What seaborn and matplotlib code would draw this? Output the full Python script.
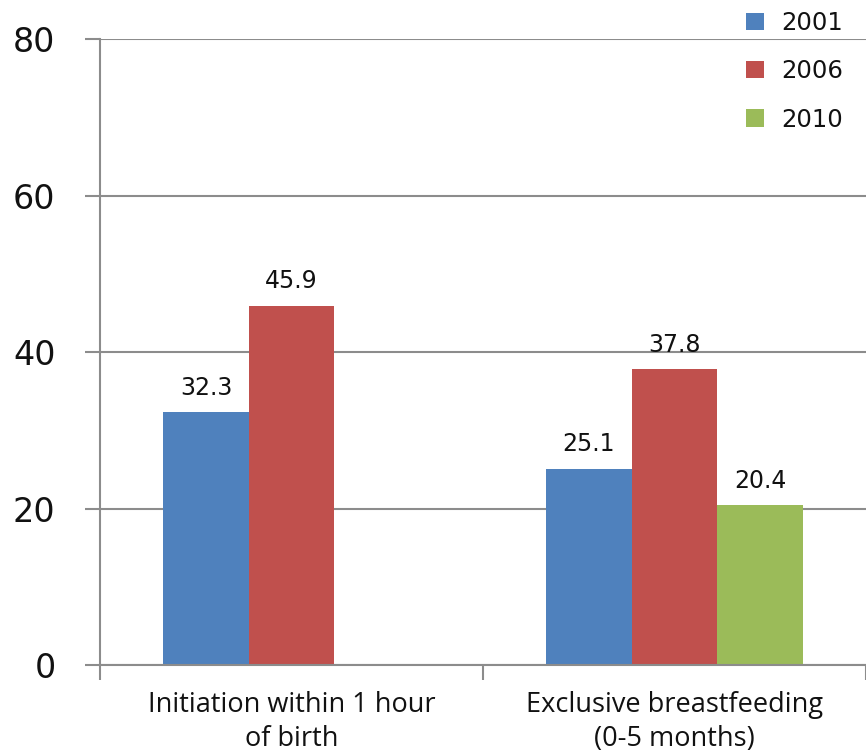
import numpy as np
import pandas as pd
import matplotlib
matplotlib.use("Agg")
import matplotlib.pyplot as plt
import seaborn as sns

# Breastfeeding indicators by survey year (percent)
categories = ["Initiation within 1 hour\nof birth", "Exclusive breastfeeding\n(0-5 months)"]
years = ["2001", "2006", "2010"]
values_2001 = [32.3, 25.1]
values_2006 = [45.9, 37.8]
values_2010 = [np.nan, 20.4]
y_ticks = [0, 20, 40, 60, 80]
palette = ["#4F81BD", "#C0504D", "#9BBB59"]

df = pd.DataFrame({
    "indicator": categories * 3,
    "year": [y for y in years for _ in categories],
    "value": values_2001 + values_2006 + values_2010,
})

sns.set_theme(style="white")
plt.rcParams["font.family"] = ["DejaVu Sans"]

fig = plt.figure(figsize=(8.66, 7.52), dpi=100)
ax = fig.add_axes([0.1155, 0.1157, 0.8845, 0.8323])

sns.barplot(data=df, x="indicator", y="value", hue="year", hue_order=years,
            order=categories, palette=palette, saturation=1, width=0.67,
            linewidth=0, errorbar=None, ax=ax)

grid_c = "#8C8C8C"
ax.set_ylim(0, 80)
ax.set_xlim(-0.5, 1.49)
ax.set_yticks(y_ticks)
ax.set_yticklabels([str(t) for t in y_ticks], fontsize=24, color="#111111")
ax.yaxis.grid(True, color=grid_c, linewidth=1.5)
ax.set_axisbelow(True)
ax.tick_params(axis="y", direction="out", length=11, width=1.5, color=grid_c, pad=21, left=True)

# category labels centred, tick marks at category boundaries
ax.set_xticks([0, 1])
ax.set_xticklabels(categories, fontsize=19.5, family="Open Sans", color="#111111", linespacing=1.25)
ax.set_xticks([-0.5, 0.5, 1.5], minor=True)
ax.tick_params(axis="x", which="major", length=0, pad=19)
ax.tick_params(axis="x", which="minor", direction="out", length=11, width=1.5, color=grid_c, bottom=True)

for side in ["top", "right"]:
    ax.spines[side].set_visible(False)
for side in ["left", "bottom"]:
    ax.spines[side].set_color(grid_c)
    ax.spines[side].set_linewidth(1.5)
ax.set_xlabel("")
ax.set_ylabel("")

for cont in ax.containers:
    ax.bar_label(cont, fmt="%.1f", padding=9, fontsize=17, color="#111111")

leg = ax.legend(loc="upper right", bbox_to_anchor=(0.999, 1.0146),
                bbox_transform=fig.transFigure, frameon=False,
                fontsize=17.5, handlelength=0.75, handleheight=0.7,
                labelspacing=1.0, handletextpad=0.7)
for t in leg.get_texts():
    t.set_color("#111111")

fig.savefig("out.png", dpi=100)
